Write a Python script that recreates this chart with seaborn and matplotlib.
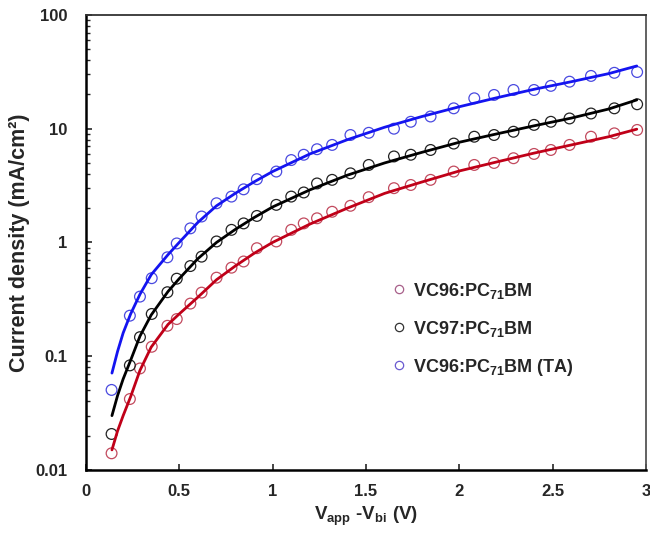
import pandas as pd
import numpy as np
import matplotlib
matplotlib.use("Agg")
import matplotlib.pyplot as plt
import seaborn as sns
from matplotlib.lines import Line2D
from matplotlib.ticker import FixedLocator, LogLocator, NullFormatter

# measured points (shared voltage grid)
v_pts = [0.138, 0.236, 0.29, 0.353, 0.437, 0.487, 0.56, 0.62, 0.70, 0.78, 0.845,
         0.916, 1.02, 1.10, 1.167, 1.238, 1.319, 1.417, 1.515, 1.65, 1.74, 1.846,
         1.97, 2.08, 2.186, 2.29, 2.40, 2.49, 2.59, 2.705, 2.83, 2.952]
j_vc96 = [0.014, 0.042, 0.078, 0.121, 0.185, 0.212, 0.29, 0.362, 0.49, 0.60, 0.68,
          0.89, 1.02, 1.29, 1.47, 1.63, 1.86, 2.1, 2.5, 3.0, 3.2, 3.55,
          4.2, 4.8, 5.0, 5.5, 6.0, 6.5, 7.2, 8.5, 9.1, 9.75]
j_vc97 = [0.0207, 0.083, 0.147, 0.235, 0.365, 0.48, 0.62, 0.75, 1.02, 1.29, 1.47,
          1.71, 2.14, 2.53, 2.75, 3.3, 3.55, 4.05, 4.8, 5.7, 5.9, 6.5,
          7.4, 8.5, 8.8, 9.4, 10.8, 11.5, 12.3, 13.6, 15.1, 16.4]
j_vc96_ta = [0.0505, 0.227, 0.334, 0.485, 0.74, 0.98, 1.33, 1.69, 2.21, 2.53, 2.93,
             3.6, 4.2, 5.3, 5.9, 6.6, 7.2, 8.8, 9.2, 10.0, 11.5, 12.8,
             15.1, 18.5, 19.8, 21.9, 21.9, 23.8, 25.9, 29.1, 31.0, 31.5]

# fitted curves
v_fit = [0.14, 0.17, 0.2, 0.24, 0.29, 0.35, 0.44, 0.5, 0.6, 0.7, 0.8, 0.9, 1.0,
         1.2, 1.4, 1.6, 1.8, 2.0, 2.2, 2.4, 2.6, 2.8, 2.95]
fit_vc96 = [0.015, 0.022, 0.030, 0.044, 0.075, 0.12, 0.19, 0.235, 0.33, 0.47, 0.62,
            0.80, 1.0, 1.45, 2.0, 2.7, 3.4, 4.25, 5.1, 6.1, 7.2, 8.5, 9.9]
fit_vc97 = [0.030, 0.045, 0.063, 0.092, 0.15, 0.23, 0.37, 0.48, 0.72, 1.0, 1.3,
            1.65, 2.05, 2.9, 3.9, 5.0, 6.2, 7.6, 9.0, 10.6, 12.4, 14.9, 17.9]
fit_vc96_ta = [0.071, 0.11, 0.16, 0.235, 0.35, 0.52, 0.78, 1.0, 1.5, 2.1, 2.7,
               3.4, 4.2, 6.0, 8.0, 10.3, 12.8, 15.6, 18.7, 22.2, 25.9, 30.5, 35.6]

labels = [r"VC96:PC$_{71}$BM", r"VC97:PC$_{71}$BM", r"VC96:PC$_{71}$BM (TA)"]
line_colors = ["#c00018", "#000000", "#1414f0"]
pt_colors = ["#c24a5e", "#222222", "#4a4ae0"]
leg_colors = ["#a8608a", "#333333", "#6a5ad0"]

pts = pd.concat([pd.DataFrame({"V": v_pts, "J": j, "s": lab})
                 for j, lab in zip([j_vc96, j_vc97, j_vc96_ta], labels)])
fits = pd.concat([pd.DataFrame({"V": v_fit, "J": j, "s": lab})
                  for j, lab in zip([fit_vc96, fit_vc97, fit_vc96_ta], labels)])

sns.set_style("ticks")
plt.rcParams["font.family"] = ["Liberation Sans", "DejaVu Sans"]
plt.rcParams["font.weight"] = "bold"
plt.rcParams["mathtext.fontset"] = "custom"
plt.rcParams["mathtext.rm"] = "Liberation Sans:bold"
plt.rcParams["mathtext.it"] = "Liberation Sans:bold"
plt.rcParams["mathtext.bf"] = "Liberation Sans:bold"

fig = plt.figure(figsize=(6.5, 5.34), dpi=100)
ax = fig.add_axes([0.132, 0.12, 0.862, 0.852])

sns.lineplot(data=fits, x="V", y="J", hue="s", palette=dict(zip(labels, line_colors)),
             linewidth=2.0, legend=False, ax=ax, sort=True)
for lab, c in zip(labels, pt_colors):
    sns.scatterplot(data=pts[pts.s == lab], x="V", y="J", marker="o", s=60,
                    facecolors="none", edgecolor=c, linewidth=0.9, legend=False, ax=ax)

ax.set_yscale("log")
ax.set_xlim(0, 3)
ax.set_ylim(0.01, 100)
ax.xaxis.set_major_locator(FixedLocator([0, 0.5, 1, 1.5, 2, 2.5, 3]))
ax.set_xticklabels(["0", "0.5", "1", "1.5", "2", "2.5", "3"])
ax.yaxis.set_major_locator(FixedLocator([0.01, 0.1, 1, 10, 100]))
ax.set_yticklabels(["0.01", "0.1", "1", "10", "100"])
ax.yaxis.set_minor_locator(LogLocator(base=10, subs=np.arange(2, 10)))
ax.yaxis.set_minor_formatter(NullFormatter())
ax.tick_params(axis="both", which="major", direction="in", length=4, width=1.2,
               labelsize=12)
ax.tick_params(axis="x", which="major", pad=10)
ax.tick_params(axis="y", which="major", pad=13)
ax.tick_params(axis="y", which="minor", direction="in", length=3, width=1)
ax.tick_params(axis="x", which="minor", length=0)
for t in ax.get_xticklabels() + ax.get_yticklabels():
    t.set_fontweight("bold")

for side in ["left", "bottom"]:
    ax.spines[side].set_linewidth(1.8)
    ax.spines[side].set_color("black")
ax.spines["top"].set_linewidth(1.3)
ax.spines["top"].set_color("#333333")
ax.spines["right"].set_linewidth(1.3)
ax.spines["right"].set_color("#555555")

ax.set_xlabel(r"V$_{app}$ -V$_{bi}$ (V)", fontsize=13.5, fontweight="bold", labelpad=4)
ax.set_ylabel("Current density (mA/cm\u00b2)", fontsize=15.5, fontweight="bold", labelpad=4)

handles = [Line2D([], [], linestyle="none", marker="o", markersize=6,
                  markerfacecolor="none", markeredgecolor=c, markeredgewidth=0.9)
           for c in leg_colors]
ax.legend(handles, labels, loc="upper left", bbox_to_anchor=(0.52, 0.452),
          frameon=False, labelspacing=1.0, handlelength=0.6,
          handletextpad=0.5, prop={"weight": "bold", "size": 13})

fig.savefig("out.png", dpi=100)
